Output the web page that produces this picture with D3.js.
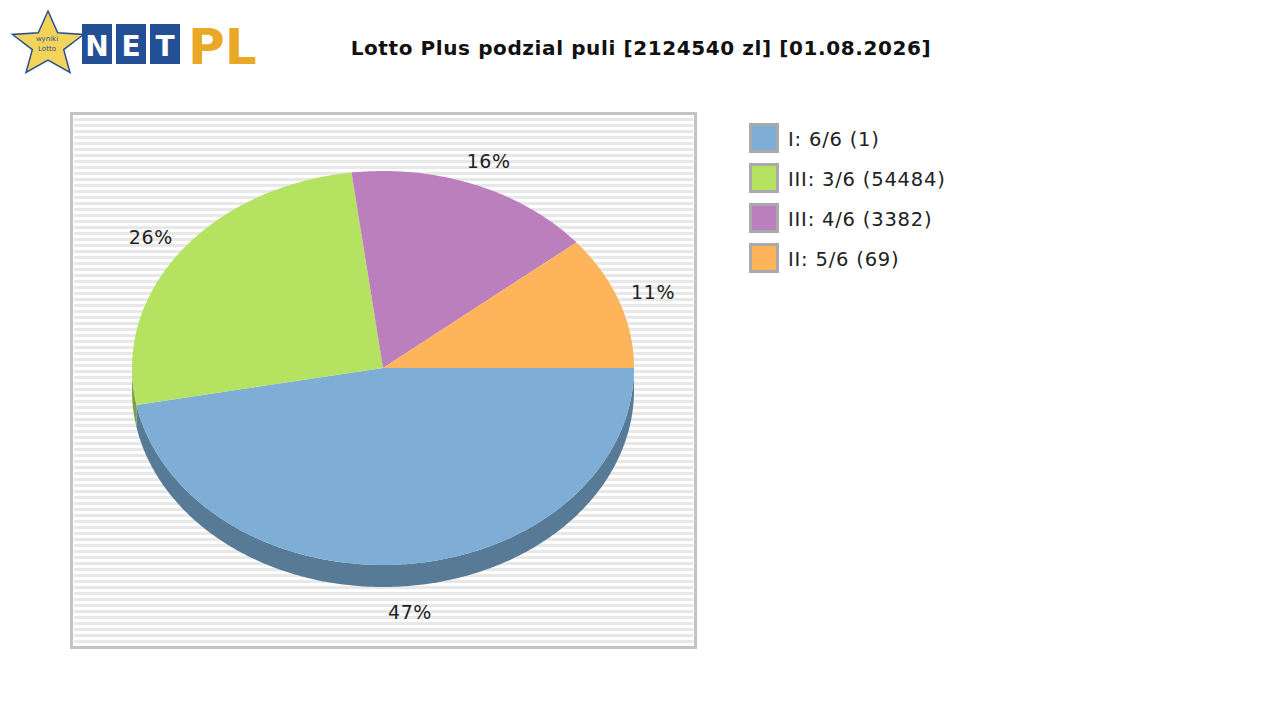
<!DOCTYPE html>
<html><head><meta charset="utf-8">
<script src="https://cdn.jsdelivr.net/npm/d3@7"></script>
<style>body{margin:0;background:#fff}</style>
</head><body>
<svg id="chart" width="1280" height="720"></svg>
<script>
// data
var categories = ["I: 6/6 (1)", "III: 3/6 (54484)", "III: 4/6 (3382)", "II: 5/6 (69)"];
var shares = [47, 26, 16, 11];
var colors = ["#7eaed5", "#b5e261", "#bc7fbd", "#feb45b"];
var sideColors = ["#577a96", "#7e9e43", "#845985", "#b27e40"];

var svg = d3.select("#chart");
var font = "DejaVu Sans, sans-serif";

// logo
var logo = svg.append("g");
var star = d3.range(10).map(function (i) {
    var a = -Math.PI / 2 + i * Math.PI / 5, r = i % 2 ? 15 : 34;
    return [48 + r * Math.cos(a) * 1.1, 45 + r * Math.sin(a)];
});
logo.append("polygon").attr("points", star.join(" ")).attr("fill", "#f4d35a").attr("stroke", "#2a4f8f").attr("stroke-width", 1.5);
logo.append("text").attr("x", 47).attr("y", 41).attr("text-anchor", "middle").attr("font-size", 7).attr("font-family", font).attr("fill", "#2a4f8f").text("wyniki");
logo.append("text").attr("x", 47).attr("y", 51).attr("text-anchor", "middle").attr("font-size", 7).attr("font-family", font).attr("fill", "#2a4f8f").text("Lotto");
["N", "E", "T"].forEach(function (c, i) {
    logo.append("rect").attr("x", 82 + i * 34).attr("y", 24).attr("width", 30).attr("height", 40).attr("fill", "#234f95");
    logo.append("text").attr("x", 97 + i * 34).attr("y", 56).attr("text-anchor", "middle").attr("font-size", 28).attr("font-weight", "bold").attr("font-family", font).attr("fill", "#fff").text(c);
});
logo.append("text").attr("x", 188).attr("y", 64).attr("font-size", 50).attr("font-weight", "bold").attr("font-family", font).attr("fill", "#e9a825").text("PL");

// title
svg.append("text").attr("x", 641).attr("y", 55).attr("text-anchor", "middle")
    .attr("font-size", 20).attr("letter-spacing", 0.6).attr("font-weight", "bold").attr("font-family", font).attr("fill", "#111")
    .text("Lotto Plus podzial puli [2124540 zl] [01.08.2026]");

// plot box with stripes
var box = {x: 70, y: 112, w: 627, h: 537};
svg.append("rect").attr("x", box.x).attr("y", box.y).attr("width", box.w).attr("height", box.h).attr("fill", "#fff");
d3.range(box.y + 6, box.y + box.h - 4, 6).forEach(function (y) {
    svg.append("rect").attr("x", box.x + 4).attr("y", y).attr("width", box.w - 8).attr("height", 3).attr("fill", "#e8e8e8");
});
svg.append("rect").attr("x", box.x + 1.5).attr("y", box.y + 1.5).attr("width", box.w - 3).attr("height", box.h - 3)
    .attr("fill", "none").attr("stroke", "#c4c4c4").attr("stroke-width", 3);

// pie geometry
var cx = 383, cy = 368, rx = 251, ry = 197, depth = 22;
var angle = d3.scaleLinear().domain([0, d3.sum(shares)]).range([0, 2 * Math.PI]);
var acc = 0;
var slices = shares.map(function (v, i) {
    var s = {a0: angle(acc), a1: angle(acc + v), i: i, v: v};
    acc += v;
    return s;
});
function pt(a, dy) { return [cx + rx * Math.cos(a), cy + ry * Math.sin(a) + (dy || 0)]; }

// side walls (only the part facing the viewer, angles 0..PI)
slices.forEach(function (s) {
    var a0 = Math.max(s.a0, 0), a1 = Math.min(s.a1, Math.PI);
    if (a1 <= a0) return;
    var top = d3.range(a0, a1, 0.01).concat([a1]).map(function (a) { return pt(a); });
    var bot = top.slice().reverse().map(function (p) { return [p[0], p[1] + depth]; });
    svg.append("polygon").attr("points", top.concat(bot).join(" ")).attr("fill", sideColors[s.i]);
});

// top faces
slices.forEach(function (s) {
    var pts = [[cx, cy]].concat(d3.range(s.a0, s.a1, 0.01).concat([s.a1]).map(function (a) { return pt(a); }));
    svg.append("polygon").attr("points", pts.join(" ")).attr("fill", colors[s.i]);
});

// labels
slices.forEach(function (s) {
    var m = (s.a0 + s.a1) / 2;
    var lx = cx + (rx + 36) * Math.cos(m);
    var ly = cy + (ry + 26) * Math.sin(m) + (Math.sin(m) > 0 ? depth : 0) + 7;
    svg.append("text").attr("x", lx).attr("y", ly).attr("text-anchor", "middle")
        .attr("font-size", 19).attr("letter-spacing", 0.6).attr("font-family", font).attr("fill", "#222").text(s.v + "%");
});

// legend
var legend = svg.selectAll(".leg").data(categories).enter().append("g")
    .attr("transform", function (d, i) { return "translate(749," + (123 + i * 40) + ")"; });
legend.append("rect").attr("x", 1.5).attr("y", 1.5).attr("width", 27).attr("height", 27)
    .attr("fill", function (d, i) { return colors[i]; }).attr("stroke", "#aaa").attr("stroke-width", 3);
legend.append("text").attr("x", 39).attr("y", 23).attr("font-size", 19.5).attr("letter-spacing", 0.8).attr("font-family", font).attr("fill", "#222")
    .text(function (d) { return d; });
</script>
</body></html>
